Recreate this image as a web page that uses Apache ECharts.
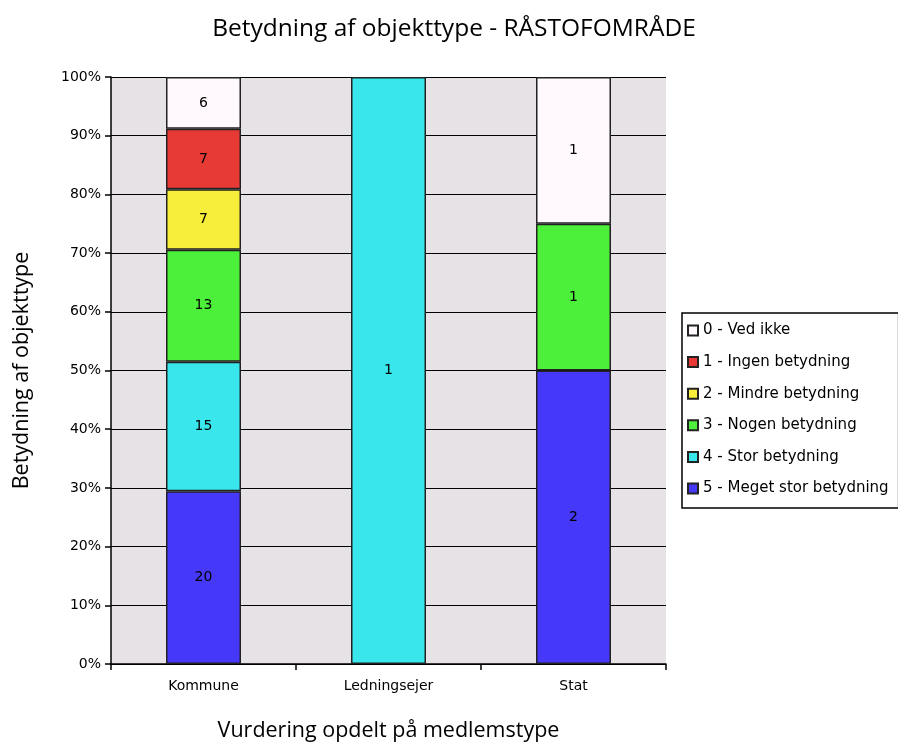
<!DOCTYPE html>
<html><head><meta charset="utf-8">
<script src="https://cdn.jsdelivr.net/npm/echarts@6/dist/echarts.min.js"></script>
<style>html,body{margin:0;padding:0;background:#fff}#c{width:898px;height:747px}</style>
</head><body><div id="c"></div>
<script>
const categories = ['Kommune', 'Ledningsejer', 'Stat'];
const seriesNames = ['0 - Ved ikke', '1 - Ingen betydning', '2 - Mindre betydning', '3 - Nogen betydning', '4 - Stor betydning', '5 - Meget stor betydning'];
const v0 = [6, 0, 1];
const v1 = [7, 0, 0];
const v2 = [7, 0, 0];
const v3 = [13, 0, 1];
const v4 = [15, 1, 0];
const v5 = [20, 0, 2];
const colors = ['#fff8fc', '#e83a34', '#f6ee3a', '#4cf03a', '#38e6ec', '#4638f8'];
const yTicks = [0,10,20,30,40,50,60,70,80,90,100];

const all = [v0, v1, v2, v3, v4, v5];
const totals = categories.map((c, i) => all.reduce((s, a) => s + a[i], 0));
// stacking order: bottom = 5, top = 0
const order = [5, 4, 3, 2, 1, 0];
const series = order.map(k => ({
  name: seriesNames[k],
  type: 'bar',
  stack: 'a',
  barWidth: 75,
  data: all[k].map((v, i) => v > 0 ? { value: v / totals[i] * 100, count: v } : null),
  itemStyle: { color: colors[k], borderColor: '#222', borderWidth: 1.5 },
  label: {
    show: true, position: 'inside', color: '#000',
    fontFamily: 'DejaVu Sans', fontSize: 14,
    formatter: p => p.data ? String(p.data.count) : ''
  }
}));

const chart = echarts.init(document.getElementById('c'), null, { renderer: 'canvas' });
chart.setOption({
  animation: false,
  backgroundColor: '#fff',
  title: {
    text: 'Betydning af objekttype - RÅSTOFOMRÅDE',
    left: 449, top: 12, textAlign: 'center',
    textStyle: { fontFamily: 'Open Sans', fontSize: 24.5, fontWeight: 'normal', color: '#000' }
  },
  legend: {
    orient: 'vertical', left: 682, top: 313,
    data: seriesNames,
    itemWidth: 10, itemHeight: 10, itemGap: 16.6,
    padding: [10, 10, 12, 5],
    borderColor: '#000', borderWidth: 1.5,
    icon: 'rect',
    textStyle: { fontFamily: 'DejaVu Sans', fontSize: 15, color: '#000', padding: [0, 0, 0, 0] }
  },
  grid: { left: 111, right: 232, top: 77, bottom: 81, show: true, backgroundColor: '#e6e2e6', borderWidth: 0 },
  xAxis: {
    type: 'category', data: categories,
    name: 'Vurdering opdelt på medlemstype', nameLocation: 'middle', nameGap: 56,
    nameTextStyle: { fontFamily: 'Open Sans', fontSize: 21.5, color: '#000' },
    axisLine: { lineStyle: { color: '#000', width: 1.5 } },
    axisTick: { show: true, length: 6, lineStyle: { color: '#000', width: 1.5 } },
    axisLabel: { fontFamily: 'DejaVu Sans', fontSize: 14, color: '#000', margin: 15 }
  },
  yAxis: {
    type: 'value', min: 0, max: 100, interval: 10,
    name: 'Betydning af objekttype', nameLocation: 'middle', nameGap: 78,
    nameTextStyle: { fontFamily: 'Open Sans', fontSize: 21.5, color: '#000' },
    axisLine: { show: true, lineStyle: { color: '#000', width: 1.5 } },
    axisTick: { show: true, length: 6, lineStyle: { color: '#000', width: 1.5 } },
    splitLine: { show: true, lineStyle: { color: '#000', width: 1.2 } },
    axisLabel: { fontFamily: 'DejaVu Sans', fontSize: 14, color: '#000', margin: 10,
      formatter: v => yTicks.includes(v) ? v + '%' : '' }
  },
  series: series
});
</script></body></html>
